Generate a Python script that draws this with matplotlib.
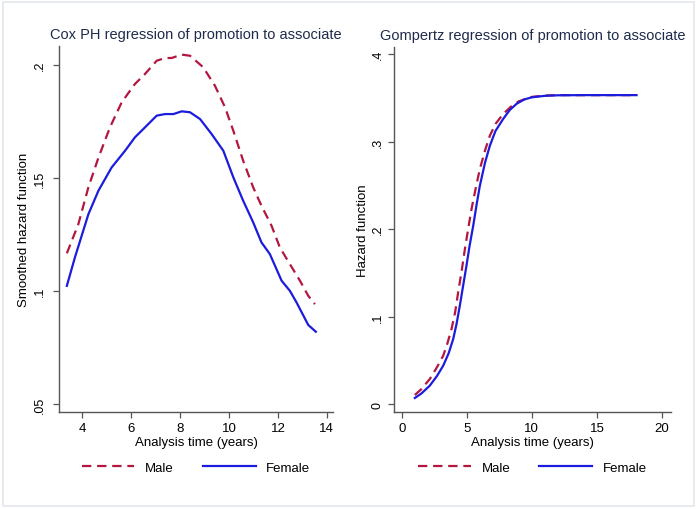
import matplotlib.pyplot as plt
from matplotlib.patches import Rectangle

plt.rcParams["font.family"] = ["Liberation Sans", "DejaVu Sans"]

male_col = "#b3173f"
female_col = "#1c1cdc"

# Cox PH smoothed hazard
cox_t_male = [3.38, 3.85, 4.26, 4.67, 5.14, 5.62, 6.16, 6.57, 7.05, 7.39, 7.66, 8.07, 8.41,
              8.95, 9.43, 9.84, 10.18, 10.58, 10.99, 11.33, 11.74, 12.08, 12.49, 12.90,
              13.24, 13.51]
cox_h_male = [0.1167, 0.1296, 0.1459, 0.1590, 0.1724, 0.1835, 0.1916, 0.1960, 0.2019, 0.2031,
              0.2031, 0.2046, 0.2041, 0.1990, 0.1908, 0.1813, 0.1709, 0.1577, 0.1459, 0.1377,
              0.1289, 0.1193, 0.1119, 0.1046, 0.0979, 0.0942]
cox_t_female = [3.38, 3.71, 4.26, 4.67, 5.21, 5.76, 6.16, 6.57, 7.05, 7.39, 7.73, 8.07, 8.41,
                8.82, 9.29, 9.77, 10.18, 10.58, 10.99, 11.33, 11.67, 12.15, 12.49, 12.76,
                13.24, 13.55]
cox_h_female = [0.1023, 0.1149, 0.1340, 0.1444, 0.1547, 0.1621, 0.1680, 0.1724, 0.1776, 0.1783,
                0.1783, 0.1795, 0.1791, 0.1761, 0.1695, 0.1621, 0.1503, 0.1400, 0.1304, 0.1215,
                0.1164, 0.1046, 0.1001, 0.0950, 0.0850, 0.0820]

# Gompertz hazard
gom_t_male = [1.0, 1.5, 2.15, 2.7, 3.18, 3.5, 3.82, 4.1, 4.33, 4.6, 4.85, 5.1, 5.36, 5.7, 6.0,
              6.4, 6.77, 7.2, 7.79, 8.4, 9.0, 10.0, 11.0, 12.0, 14.0, 16.0, 18.05]
gom_h_male = [0.0103, 0.0170, 0.0286, 0.0420, 0.0552, 0.0690, 0.0857, 0.1050, 0.1276, 0.1520,
              0.1771, 0.2000, 0.2229, 0.2480, 0.2686, 0.2900, 0.3067, 0.3200, 0.3314, 0.3400,
              0.3460, 0.3510, 0.3525, 0.3530, 0.3530, 0.3530, 0.3530]
gom_t_female = [1.0, 1.5, 2.15, 2.7, 3.18, 3.6, 3.95, 4.2, 4.46, 4.7, 4.97, 5.2, 5.49, 5.75,
                6.0, 6.4, 6.77, 7.2, 7.79, 8.3, 8.82, 9.4, 10.0, 11.0, 12.0, 14.0, 16.0, 18.05]
gom_h_female = [0.0069, 0.0120, 0.0210, 0.0320, 0.0438, 0.0580, 0.0743, 0.0910, 0.1124, 0.1340,
                0.1580, 0.1800, 0.2038, 0.2280, 0.2495, 0.2760, 0.2952, 0.3120, 0.3257, 0.3360,
                0.3430, 0.3480, 0.3505, 0.3522, 0.3528, 0.3530, 0.3530, 0.3530]

cox_yticks = [0.05, 0.1, 0.15, 0.2]
cox_ylabels = [".05", ".1", ".15", ".2"]
cox_xticks = [4, 6, 8, 10, 12, 14]
gom_yticks = [0, 0.1, 0.2, 0.3, 0.4]
gom_ylabels = ["0", ".1", ".2", ".3", ".4"]
gom_xticks = [0, 5, 10, 15, 20]

fig = plt.figure(figsize=(7, 5.1), dpi=100)
fig.patches.append(Rectangle((0.004, 0.006), 0.988, 0.988, transform=fig.transFigure,
                             fill=False, edgecolor="#e3e7ec", lw=1.2))

ax1 = fig.add_axes([0.0843, 0.1902, 0.3914, 0.7176])
ax2 = fig.add_axes([0.5629, 0.1902, 0.3957, 0.7157])


def style(ax, title, ylabel, yticks, ylabels, xticks, ytickpad, ylabelx):
    for s in ["top", "right"]:
        ax.spines[s].set_visible(False)
    for s in ["left", "bottom"]:
        ax.spines[s].set_color("#555555")
        ax.spines[s].set_linewidth(1.0)
    ax.set_yticks(yticks)
    ax.set_yticklabels(ylabels, rotation=90, va="center")
    ax.set_xticks(xticks)
    ax.tick_params(axis="both", direction="out", length=4.5, width=0.9, color="#555555",
                   labelsize=9.5, pad=3)
    ax.tick_params(axis="y", labelsize=9, pad=ytickpad)
    ax.set_title(title, fontsize=10.5, color="#1e2b4a", pad=6)
    ax.set_xlabel("Analysis time (years)", fontsize=9.5, labelpad=1)
    ax.set_ylabel(ylabel, fontsize=9.5)
    ax.yaxis.set_label_coords(ylabelx, 0.5)
    ax.legend(loc="center", bbox_to_anchor=(0.5, -0.152), ncol=2, frameon=False,
              fontsize=9.5, handlelength=4.0, handletextpad=0.8, columnspacing=2.2)


ax1.plot(cox_t_male, cox_h_male, color=male_col, lw=1.6, dashes=(4.2, 2.6), label="Male")
ax1.plot(cox_t_female, cox_h_female, color=female_col, lw=1.6, label="Female")
ax1.set_xlim(3.06, 14.25)
ax1.set_ylim(0.0465, 0.2084)
style(ax1, "Cox PH regression of promotion to associate", "Smoothed hazard function",
      cox_yticks, cox_ylabels, cox_xticks, 5, -0.106)

ax2.plot(gom_t_male, gom_h_male, color=male_col, lw=1.6, dashes=(4.2, 2.6), label="Male")
ax2.plot(gom_t_female, gom_h_female, color=female_col, lw=1.6, label="Female")
ax2.set_xlim(-0.6, 20.7)
ax2.set_ylim(-0.0091, 0.408)
style(ax2, "Gompertz regression of promotion to associate", "Hazard function",
      gom_yticks, gom_ylabels, gom_xticks, 3, -0.09)

fig.savefig("out.png", dpi=100, facecolor="white")
